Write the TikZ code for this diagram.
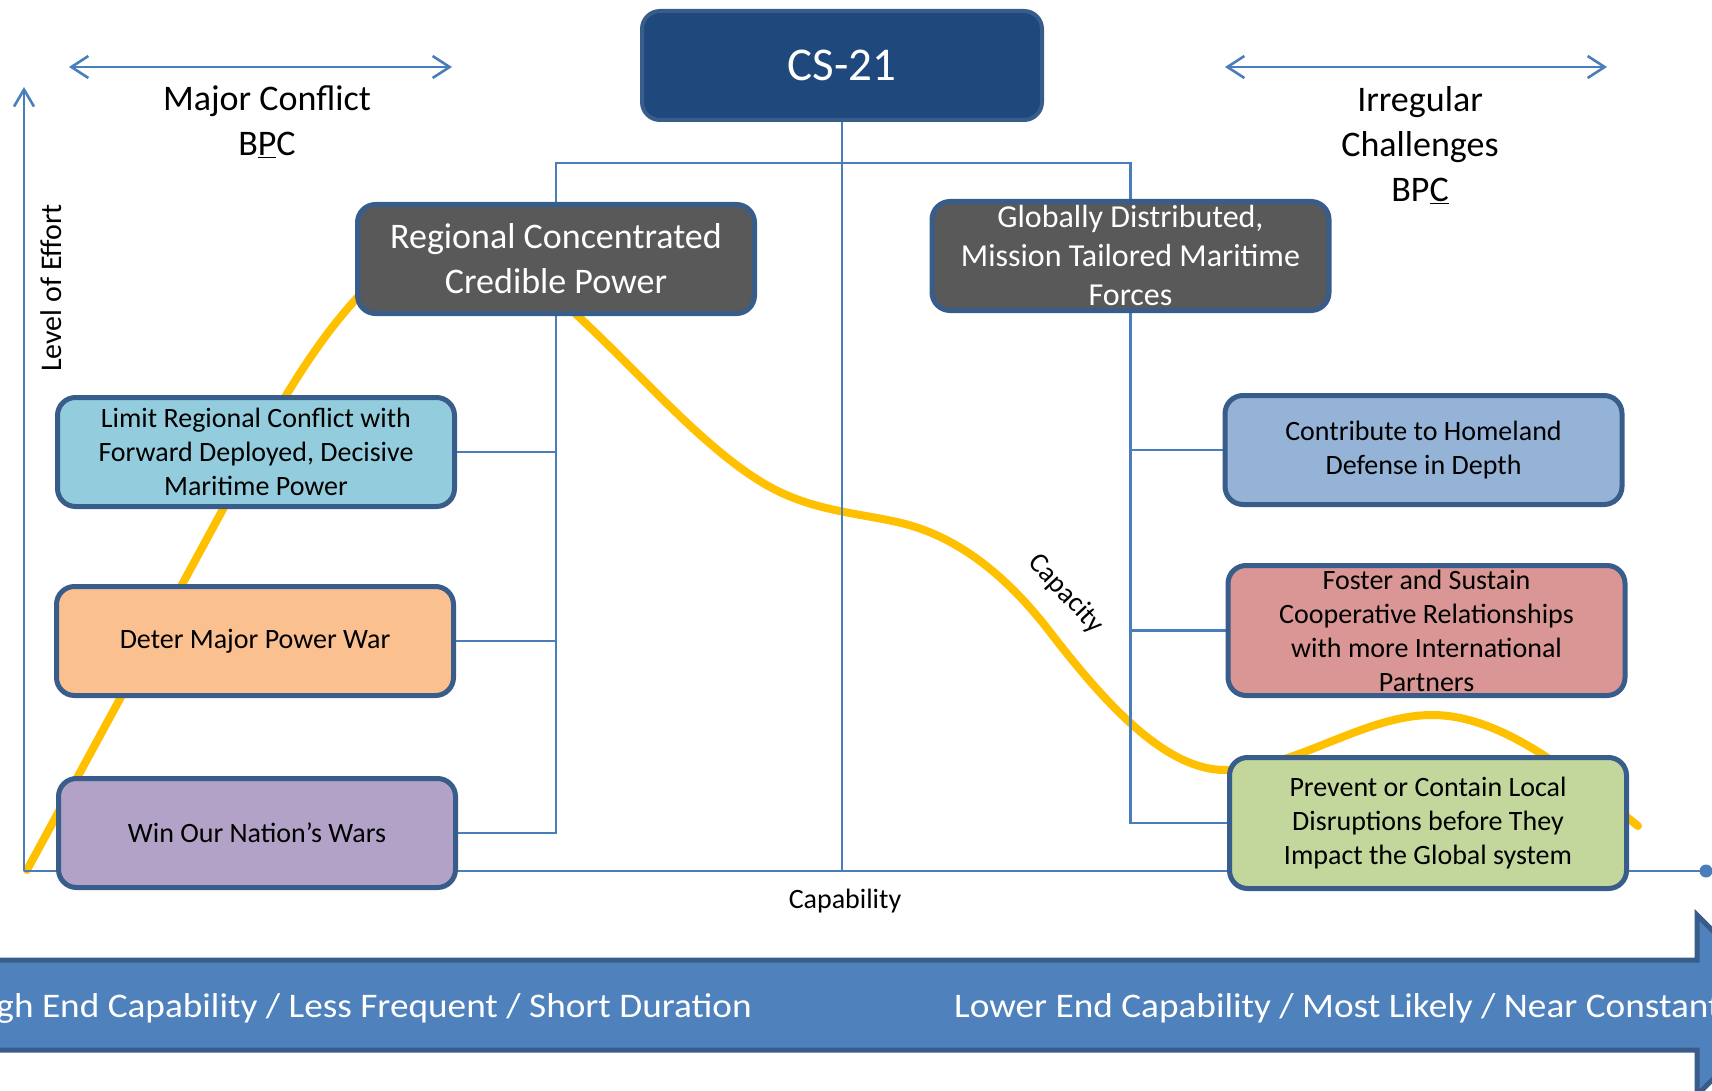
\documentclass[tikz,border=0pt]{standalone}
\usepackage{fontspec}
\usepackage{graphicx}
\setmainfont{Carlito}
\usetikzlibrary{arrows.meta,backgrounds}
\definecolor{bord}{HTML}{385D8A}
\definecolor{csblue}{HTML}{1F497D}
\definecolor{gbox}{HTML}{595959}
\definecolor{limitc}{HTML}{93CDDD}
\definecolor{deterc}{HTML}{FAC090}
\definecolor{winc}{HTML}{B3A2C7}
\definecolor{contc}{HTML}{95B3D7}
\definecolor{fostc}{HTML}{D99694}
\definecolor{prevc}{HTML}{C3D69B}
\definecolor{connc}{HTML}{4A7EBB}
\definecolor{yel}{HTML}{FFC000}
\definecolor{arrowc}{HTML}{4F81BD}
\newcommand\myfs[2]{\fontsize{#1}{#2}\selectfont}
\begin{document}
\begin{tikzpicture}[x=1pt,y=-1pt,
  box/.style={rounded corners=18pt, line width=5pt, draw=bord, align=center, inner sep=0pt,
              minimum width=397pt, minimum height=109pt, text=black, font=\myfs{28}{34}},
  conn/.style={draw=connc, line width=2.6pt},
  dbl/.style={conn, >={Straight Barb[length=17pt,width=22pt]}, <->},
  lab/.style={align=center, inner sep=0pt, text=black},
  bandtext/.style={text=white, font=\myfs{34.5}{40}, inner sep=0pt}]
\useasboundingbox (0,0) rectangle (1712,1091);
\clip (0,0) rectangle (1712,1091);

\coordinate (O) at (24,871);
\coordinate (Ytop) at (24,87);
\coordinate (Xend) at (1706,871);
\coordinate (bus) at (842,163);
\coordinate (la) at (69,67);
\coordinate (lb) at (452,67);
\coordinate (ra) at (1225,67);
\coordinate (rb) at (1607,67);

% boxes
\node[box, fill=csblue, text=white, font=\myfs{47}{56}, minimum width=400pt, line width=4pt] (cs) at (842,65.5) {CS-21};
\node[box, fill=gbox, text=white, font=\myfs{36}{45}] (reg) at (556,259) {Regional Concentrated\\Credible Power};
\node[box, fill=gbox, text=white, font=\myfs{32}{39}] (glob) at (1130.5,256) {Globally Distributed,\\Mission Tailored Maritime\\Forces};
\node[box, fill=limitc] (limit) at (256,452) {Limit Regional Conflict with\\Forward Deployed, Decisive\\Maritime Power};
\node[box, fill=deterc] (deter) at (255,641) {Deter Major Power War};
\node[box, fill=winc] (win) at (257,833) {Win Our Nation’s Wars};
\node[box, fill=contc] (cont) at (1423.5,450) {Contribute to Homeland\\Defense in Depth};
\node[box, fill=fostc, minimum height=130pt] (fost) at (1426.5,630.5) {Foster and Sustain\\Cooperative Relationships\\with more International\\Partners};
\node[box, fill=prevc, minimum height=131pt] (prev) at (1428,823) {Prevent or Contain Local\\Disruptions before They\\Impact the Global system};

\begin{scope}[on background layer]
  % capacity curve
  \draw[yel, line width=8pt, line cap=round]
    (27,870) -- (260,441) .. controls (330,312) and (400,235) .. (470,235)
    .. controls (507,235) and (543,284) .. (580,318)
    .. controls (641,374.7) and (702,446.4) .. (763,483)
    .. controls (808,510) and (852,512.1) .. (897,522)
    .. controls (948,533.2) and (999,565.7) .. (1050,632)
    .. controls (1108,707.4) and (1167,770) .. (1225,770)
    .. controls (1294,770) and (1363,715) .. (1432,715)
    .. controls (1501,715) and (1569,771) .. (1638,826);
  % axes
  \draw[conn, -{Straight Barb[length=17pt,width=20pt]}] (O) -- (Ytop);
  \draw[conn] (O) -- (Xend);
  \fill[connc] (Xend) circle (6.5pt);
  % tree connectors
  \draw[conn] (cs.south) -- (cs.south |- O);
  \draw[conn] (reg.north) -- (reg.north |- bus) -- (glob.north |- bus) -- (glob.north);
  \draw[conn] (reg.south) -- (reg.south |- win.east) -- (win.east);
  \draw[conn] (limit.east) -- (limit.east -| reg.south);
  \draw[conn] (deter.east) -- (deter.east -| reg.south);
  \draw[conn] (glob.south) -- (glob.south |- prev.west) -- (prev.west);
  \draw[conn] (cont.west) -- (cont.west -| glob.south);
  \draw[conn] (fost.west) -- (fost.west -| glob.south);
\end{scope}

% range arrows and labels
\draw[dbl] (la) -- (lb);
\draw[dbl] (ra) -- (rb);
\node[lab, font=\myfs{36}{45}] (mc) at (267,122) {Major Conflict\\B\underline{P}C};
\node[lab, font=\myfs{36}{45}] (ic) at (1420,145) {Irregular\\Challenges\\BP\underline{C}};
\node[lab, font=\myfs{30}{36}, rotate=90] (loe) at (51,288) {Level of Effort};
\node[lab, font=\myfs{28}{34}] (capab) at (845,901) {Capability};
\node[lab, font=\myfs{28}{34}, rotate=-47] (capac) at (1066,594) {Capacity};

% bottom arrow
\path[draw=bord, line width=5pt, fill=arrowc, line join=miter]
  (-30,960) -- (1697,960) -- (1697,915) -- (1787,1005) -- (1697,1095) -- (1697,1050) -- (-30,1050) -- cycle;
\node[bandtext, anchor=base east] (hi) at (752,1017) {\scalebox{1.08}[1]{High End Capability / Less Frequent / Short Duration}};
\node[bandtext, anchor=base west] (lo) at (954,1017) {\scalebox{1.08}[1]{Lower End Capability / Most Likely / Near Constant}};
\end{tikzpicture}
\end{document}
